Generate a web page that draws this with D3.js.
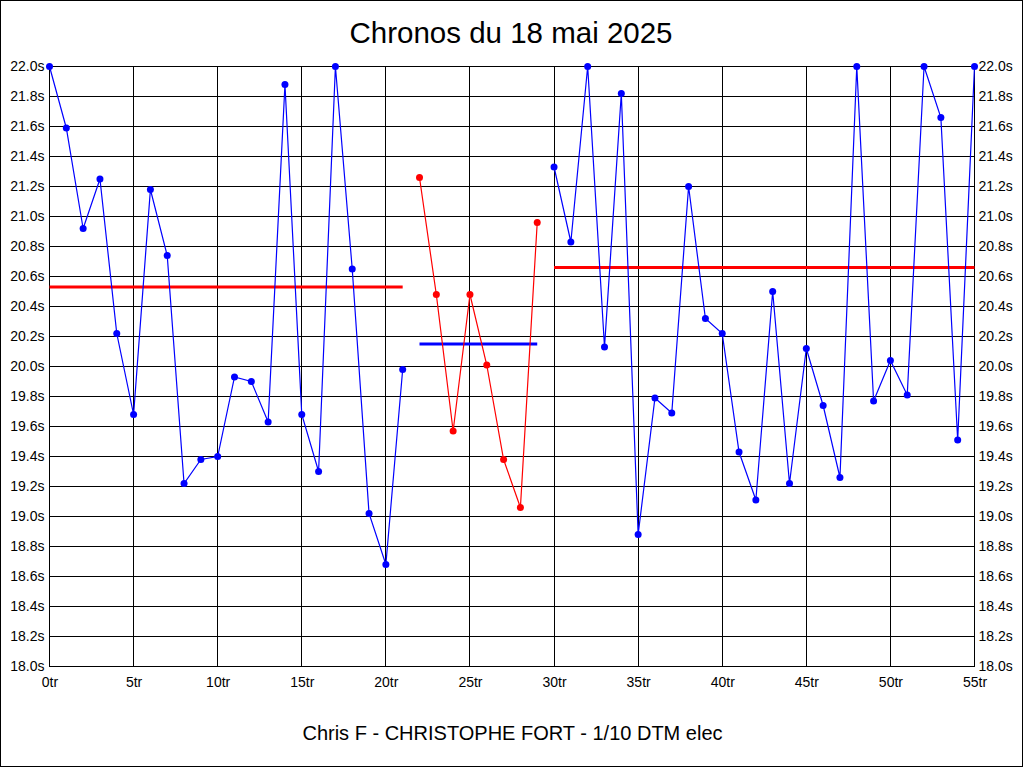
<!DOCTYPE html>
<html><head><meta charset="utf-8">
<script src="https://cdn.jsdelivr.net/npm/d3@7"></script>
<style>body{margin:0;background:#fff}svg{display:block}text{font-family:"Liberation Sans",Arial,sans-serif}</style>
</head><body><svg id="c" width="1024" height="768"></svg>
<script>
const title = "Chronos du 18 mai 2025";
const subtitle = "Chris F - CHRISTOPHE FORT - 1/10 DTM elec";
// lap times per run (start lap, values)
const run1Start = 0;
const run1 = [22.0,21.59,20.92,21.25,20.22,19.68,21.18,20.74,19.22,19.38,19.40,19.93,19.90,19.63,21.88,19.68,19.30,22.0,20.65,19.02,18.68,19.98];
const run2Start = 22;
const run2 = [21.26,20.48,19.57,20.48,20.01,19.38,19.06,20.96];
const run3Start = 30;
const run3 = [21.33,20.83,22.0,20.13,21.82,18.88,19.79,19.69,21.20,20.32,20.22,19.43,19.11,20.50,19.22,20.12,19.74,19.26,22.0,19.77,20.04,19.81,22.0,21.66,19.51,22.0];
const runMeans = [20.53, 20.15, 20.66];
const runColors = ["#0000ff", "#ff0000", "#0000ff"];
const meanColors = ["#ff0000", "#0000ff", "#ff0000"];
const xTicks = [0,5,10,15,20,25,30,35,40,45,50,55];
const yTicks = [18.0,18.2,18.4,18.6,18.8,19.0,19.2,19.4,19.6,19.8,20.0,20.2,20.4,20.6,20.8,21.0,21.2,21.4,21.6,21.8,22.0];

const svg = d3.select("#c");
const x = d3.scaleLinear().domain([0,55]).range([49.5,974.5]);
const y = d3.scaleLinear().domain([18,22]).range([666.5,66.5]);

svg.append("rect").attr("x",0.5).attr("y",0.5).attr("width",1022).attr("height",766)
  .attr("fill","#fff").attr("stroke","#000").attr("shape-rendering","crispEdges");

svg.append("text").attr("x",511).attr("y",43).attr("text-anchor","middle")
  .attr("font-size",29.5).attr("fill","#000").text(title);
svg.append("text").attr("x",512.5).attr("y",740).attr("text-anchor","middle")
  .attr("font-size",20).attr("fill","#000").text(subtitle);

const g = svg.append("g");
// grid
g.selectAll("line.h").data(yTicks).join("line").attr("class","h")
  .attr("x1",x(0)).attr("x2",x(55)).attr("y1",d=>Math.floor(y(d))+0.5).attr("y2",d=>Math.floor(y(d))+0.5)
  .attr("stroke","#000").attr("stroke-width",1).attr("shape-rendering","crispEdges");
g.selectAll("line.v").data(xTicks).join("line").attr("class","v")
  .attr("y1",y(22)).attr("y2",y(18)).attr("x1",d=>Math.floor(x(d))+0.5).attr("x2",d=>Math.floor(x(d))+0.5)
  .attr("stroke","#000").attr("stroke-width",1).attr("shape-rendering","crispEdges");

// axes labels via d3 axes
const fmtY = d => d.toFixed(1)+"s";
const left = svg.append("g").attr("transform",`translate(${x(0)},0)`)
  .call(d3.axisLeft(y).tickValues(yTicks).tickFormat(fmtY).tickSize(0).tickPadding(5));
const right = svg.append("g").attr("transform",`translate(${x(55)},0)`)
  .call(d3.axisRight(y).tickValues(yTicks).tickFormat(fmtY).tickSize(0).tickPadding(4));
const bottom = svg.append("g").attr("transform",`translate(0,${y(18)})`)
  .call(d3.axisBottom(x).tickValues(xTicks).tickFormat(d=>d+"tr").tickSize(0).tickPadding(11));
[left,right,bottom].forEach(a=>{
  a.select(".domain").remove();
  a.selectAll("text").attr("font-size",14).attr("fill","#000").attr("font-family","\"Liberation Sans\",Arial,sans-serif");
});

const runs = [[run1Start,run1],[run2Start,run2],[run3Start,run3]];
const line = d3.line().x(d=>x(d[0])).y(d=>y(d[1]));
runs.forEach(([s,vals],i)=>{
  const pts = vals.map((v,j)=>[s+j,v]);
  // mean line
  svg.append("line").attr("x1",x(s)).attr("x2",x(s+vals.length-1))
    .attr("y1",y(runMeans[i])).attr("y2",y(runMeans[i]))
    .attr("stroke",meanColors[i]).attr("stroke-width",3);
  svg.append("path").datum(pts).attr("d",line).attr("fill","none")
    .attr("stroke",runColors[i]).attr("stroke-width",1.2);
  svg.append("g").selectAll("circle").data(pts).join("circle")
    .attr("cx",d=>x(d[0])).attr("cy",d=>y(d[1])).attr("r",3.5).attr("fill",runColors[i]);
});
</script></body></html>
